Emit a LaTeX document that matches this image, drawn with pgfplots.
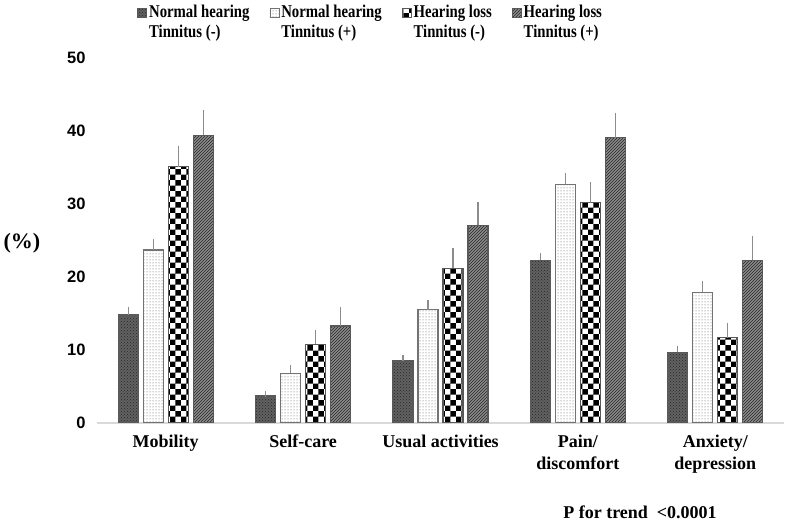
\documentclass[border=0pt]{standalone}
\usepackage{fontspec}
\setmainfont{Liberation Serif}
\newfontfamily\legfont[FakeStretch=0.82]{Liberation Serif}
\newfontfamily\tickfont{Liberation Sans}
\usepackage{pgfplots}
\usepackage{pgfplotstable}
\pgfplotsset{compat=1.18}
\usetikzlibrary{patterns}

\pgfplotstableread{
x y e
0 14.8 0.7
1 3.7 0.25
2 8.5 0.4
3 22.3 0.6
4 9.7 0.4
}\tA
\pgfplotstableread{
x y e
0 23.7 1.1
1 6.8 0.8
2 15.5 0.9
3 32.7 1.2
4 17.9 1.1
}\tB
\pgfplotstableread{
x y e
0 35.1 2.5
1 10.8 1.5
2 21.2 2.3
3 30.2 2.4
4 11.7 1.6
}\tC
\pgfplotstableread{
x y e
0 39.4 3.0
1 13.3 2.2
2 27.1 2.8
3 39.1 3.0
4 22.3 2.9
}\tD

\begin{document}
\begin{tikzpicture}
\useasboundingbox (-97pt,-101pt) rectangle (691pt,423pt);
\begin{axis}[
  at={(0pt,0pt)}, anchor=south west,
  scale only axis, width=687pt, height=365pt,
  ybar=5pt, bar width=20pt,
  xmin=-0.5, xmax=4.5, ymin=0, ymax=50,
  xtick=data,
  xticklabels={Mobility, Self-care, Usual activities, {Pain/\\discomfort}, {Anxiety/\\depression}},
  ytick={0,10,...,50},
  axis x line=bottom, axis y line=left,
  axis line style={-},
  x axis line style={draw=black!15, line width=1.2pt},
  y axis line style={draw=none},
  major tick length=0pt,
  xticklabel style={font=\bfseries\fontsize{18}{22}\selectfont, align=center, yshift=-8pt},
  yticklabel style={font=\tickfont\bfseries\fontsize{16.5}{18}\selectfont, xshift=-8pt},
  /pgf/number format/assume math mode=true,
  legend columns=4,
  legend cell align=left,
  legend style={draw=none, fill=none, at={(0.054,1.158)}, anchor=north west,
    font=\legfont\bfseries\fontsize{18}{20}\selectfont,
    cells={align=left},
    /tikz/every even column/.append style={column sep=18pt}},
  legend image code/.code={\draw[#1, line width=0.8pt] (0pt,4.5pt) rectangle (9pt,13.5pt);},
  error bars/y dir=plus, error bars/y explicit,
  error bars/error bar style={draw=black!45, line width=1.2pt},
  error bars/error mark options={draw=black!45, mark size=3pt, line width=1.2pt},
]
\addplot[draw=black!65, line width=1.2pt, fill=black!62, postaction={pattern=crosshatch dots, pattern color=black!85}]
  table[x=x, y=y, y error=e]{\tA};
\addlegendentry{Normal hearing\\Tinnitus (-)}
\addplot[draw=black!55, line width=1.2pt, fill=white, postaction={pattern=dots, pattern color=black!65}]
  table[x=x, y=y, y error=e]{\tB};
\addlegendentry{Normal hearing\\Tinnitus (+)}
\addplot[draw=black!65, line width=1.2pt, fill=white, postaction={pattern=checkerboard, pattern color=black}]
  table[x=x, y=y, y error=e]{\tC};
\addlegendentry{Hearing loss\\Tinnitus (-)}
\addplot[draw=black!65, line width=1.2pt, fill=black!45, postaction={pattern=north east lines, pattern color=black!85}]
  table[x=x, y=y, y error=e]{\tD};
\addlegendentry{Hearing loss\\Tinnitus (+)}
\end{axis}
\node[font=\bfseries\fontsize{22}{24}\selectfont] at (-75pt,180pt) {(\%)};
\node[font=\bfseries\fontsize{18}{20}\selectfont] at (543pt,-89pt) {P for trend\ \ <0.0001};
\end{tikzpicture}
\end{document}
